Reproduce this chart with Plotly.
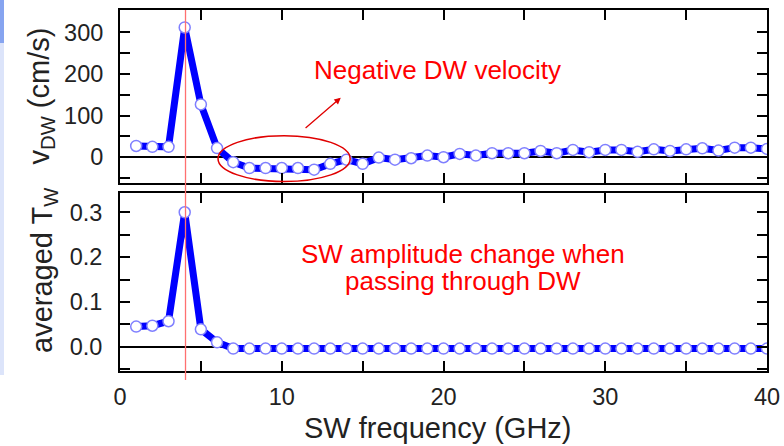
import plotly.graph_objects as go

# ---- data ----
freq_ghz = list(range(1, 41))
v_dw = [27, 25, 25, 312, 127, 22, -12, -26, -26, -26, -26, -30, -16, -6, -16, -1,
        -6, -2.5, 4, 0, 8, 4, 9.6, 9.6, 9.6, 15, 9.6, 17.5, 12, 17.5, 17.5, 13,
        19, 15, 19, 21.5, 16, 23, 23, 20]
t_w = [0.045, 0.047, 0.057, 0.30, 0.039, 0.010, -0.004, -0.004, -0.004, -0.004,
       -0.004, -0.004, -0.004, -0.004, -0.004, -0.004, -0.004, -0.004, -0.004, -0.004,
       -0.004, -0.004, -0.004, -0.004, -0.004, -0.004, -0.004, -0.004, -0.004, -0.004,
       -0.004, -0.004, -0.004, -0.004, -0.004, -0.004, -0.004, -0.004, -0.004, -0.004]
resonance_ghz = 4.05

x_tickvals = [0, 5, 10, 15, 20, 25, 30, 35, 40]
x_ticktext = ["0", " ", "10", " ", "20", " ", "30", " ", "40"]
y1_tickvals = [-50, 0, 50, 100, 150, 200, 250, 300]
y1_ticktext = [" ", "0", " ", "100", " ", "200", " ", "300"]
y2_tickvals = [-0.05, 0, 0.05, 0.1, 0.15, 0.2, 0.25, 0.3]
y2_ticktext = [" ", "0.0", " ", "0.1", " ", "0.2", " ", "0.3"]

FONT = "Liberation Sans, Arial, sans-serif"
line_style = dict(color="#0000ff", width=7)
marker_style = dict(size=11, color="white", line=dict(color="#7f7fff", width=1.5))

fig = go.Figure()
fig.add_trace(go.Scatter(x=freq_ghz, y=v_dw, mode="lines+markers", line=line_style,
                         marker=marker_style, xaxis="x", yaxis="y", showlegend=False))
fig.add_trace(go.Scatter(x=freq_ghz, y=t_w, mode="lines+markers", line=line_style,
                         marker=marker_style, xaxis="x2", yaxis="y2", showlegend=False))

axis_common = dict(showline=True, linecolor="black", linewidth=2, mirror="allticks",
                   ticks="inside", ticklen=10, tickwidth=2, tickcolor="black",
                   showgrid=False, automargin=False,
                   tickfont=dict(family=FONT, size=23.5, color="#222"))
title_font = dict(family=FONT, size=29, color="#222")

fig.update_layout(
    width=784, height=446,
    margin=dict(l=120, r=17, t=10, b=75),
    paper_bgcolor="white", plot_bgcolor="white",
    font=dict(family=FONT, color="#222"),
    xaxis=dict(domain=[0, 1], range=[0, 40], anchor="y", tickmode="array",
               tickvals=x_tickvals, ticktext=[" "] * len(x_tickvals), zeroline=False,
               **axis_common),
    yaxis=dict(domain=[0.5208, 1], range=[-62, 354], anchor="x", tickmode="array",
               tickvals=y1_tickvals, ticktext=y1_ticktext,
               zeroline=True, zerolinecolor="black", zerolinewidth=1.5,
               ticklabelstandoff=10, **axis_common),
    xaxis2=dict(domain=[0, 1], range=[0, 40], anchor="y2", tickmode="array",
                tickvals=x_tickvals, ticktext=x_ticktext, zeroline=False,
                ticklabelstandoff=4, **axis_common),
    yaxis2=dict(domain=[0, 0.4931], range=[-0.054, 0.343], anchor="x2", tickmode="array",
                tickvals=y2_tickvals, ticktext=y2_ticktext,
                zeroline=True, zerolinecolor="black", zerolinewidth=1.5,
                ticklabelstandoff=11, **axis_common),
)

# axis titles as annotations (precise placement)
fig.add_annotation(x=-80 / 647, y=1 - (96.5 - 10) / 361, xref="paper", yref="paper",
                   text="v<sub>DW</sub> (cm/s)", textangle=-90, showarrow=False,
                   xanchor="center", yanchor="middle", font=title_font)
fig.add_annotation(x=-76 / 647, y=1 - (270 - 10) / 361, xref="paper", yref="paper",
                   text="averaged T<sub>W</sub>", textangle=-90, showarrow=False,
                   xanchor="center", yanchor="middle", font=title_font)
fig.add_annotation(x=(437.5 - 120) / 647, y=1 - (428 - 10) / 361, xref="paper", yref="paper",
                   text="SW frequency (GHz)", showarrow=False,
                   xanchor="center", yanchor="middle", font=title_font)

# red resonance line across both panels
fig.add_shape(type="line", xref="x", yref="paper", x0=resonance_ghz, x1=resonance_ghz,
              y0=-0.025, y1=1, line=dict(color="#ff7070", width=1.3))
# ellipse around negative velocity region
fig.add_shape(type="circle", xref="x", yref="y", x0=6.06, x1=14.23, y0=-58.6, y1=51.8,
              line=dict(color="#e00000", width=1.5))
# arrow
fig.add_annotation(x=13.65, y=143, ax=11.38, ay=67, xref="x", yref="y", axref="x", ayref="y",
                   text="", showarrow=True, arrowhead=2, arrowsize=1, arrowwidth=1.3,
                   arrowcolor="#e00000")
# texts
ann_font = dict(family=FONT, size=26, color="#ff0000")
fig.add_annotation(x=19.6, y=209, xref="x", yref="y", text="Negative DW velocity",
                   showarrow=False, xanchor="center", yanchor="middle", font=ann_font)
fig.add_annotation(x=21.2, y=0.208, xref="x2", yref="y2", text="SW amplitude change when",
                   showarrow=False, xanchor="center", yanchor="middle", font=ann_font)
fig.add_annotation(x=21.2, y=0.147, xref="x2", yref="y2", text="passing through DW",
                   showarrow=False, xanchor="center", yanchor="middle", font=ann_font)

# left slide-edge strip
fig.add_shape(type="rect", xref="paper", yref="paper", x0=-120 / 647, x1=-116 / 647,
              y0=1 - (375 - 10) / 361, y1=1 - (43 - 10) / 361, line=dict(width=0),
              fillcolor="#dce4fa", layer="below")
fig.add_shape(type="rect", xref="paper", yref="paper", x0=-120 / 647, x1=-116 / 647,
              y0=1 - (43 - 10) / 361, y1=1 + 10 / 361, line=dict(width=0),
              fillcolor="#86a4f0", layer="below")

fig.write_html("out.html", config={"displayModeBar": False},
               post_script="document.body.style.margin='0';document.body.style.overflow='hidden';")
